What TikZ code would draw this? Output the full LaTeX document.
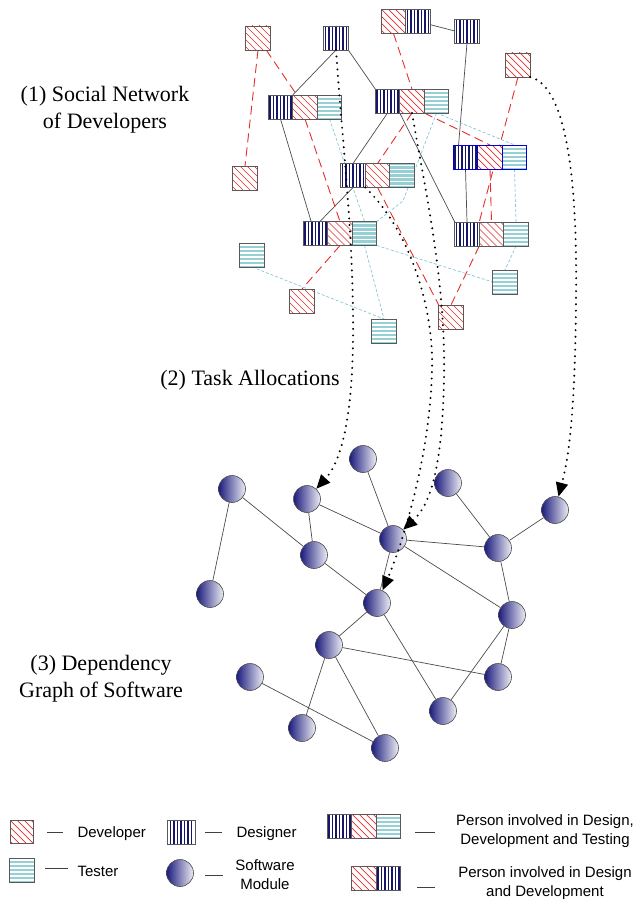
\documentclass[tikz,border=0pt]{standalone}
\usepackage{fontspec}
\setmainfont{Liberation Serif}
\setsansfont{Liberation Sans}
\usetikzlibrary{positioning, arrows.meta, backgrounds}

\definecolor{navy}{RGB}{22,22,105}
\definecolor{devred}{RGB}{228,45,45}
\definecolor{testblue}{RGB}{150,208,212}
\definecolor{linkblue}{RGB}{135,196,214}
\definecolor{modblue}{RGB}{28,28,125}

\begin{document}
\begin{tikzpicture}[x=1pt, y=-1pt,
  cell/.style={draw=black!65, line width=0.6pt, minimum width=24.5pt, minimum height=24pt, inner sep=0pt, outer sep=0pt},
  developer/.style={cell, fill=white, path picture={\foreach \k in {-4,...,4} \draw[devred, line width=0.7pt] ([xshift=\k*7pt]path picture bounding box.center) +(-20pt,20pt) -- +(20pt,-20pt);}},
  designer/.style={cell, fill=white, path picture={\foreach \k in {-3,...,3} \draw[navy, line width=1.8pt] ([xshift=\k*3.5pt]path picture bounding box.north) -- ([xshift=\k*3.5pt]path picture bounding box.south);}},
  tester/.style={cell, fill=testblue, path picture={\foreach \k in {-3,...,2} \draw[white, line width=1.3pt] ([yshift={\k*4pt+2pt}]path picture bounding box.west) -- ([yshift={\k*4pt+2pt}]path picture bounding box.east);}},
  blueedge/.style={draw=blue!85!black},
  module/.style={circle, draw=black!70, line width=0.6pt, minimum size=27pt, inner sep=0pt, left color=modblue, right color=modblue!8},
  tie/.style={draw=black!70, line width=0.7pt},
  devlink/.style={draw=devred, line width=0.9pt, dash pattern=on 9pt off 5pt},
  testlink/.style={draw=linkblue, line width=0.7pt, dash pattern=on 3pt off 2pt},
  alloc/.style={line width=2.2pt, dash pattern=on 0pt off 6.5pt, line cap=round, -{Triangle[length=14pt, width=12pt]}},
  heading/.style={align=center, font=\fontsize{22}{27}\selectfont},
  legtext/.style={align=center, font=\sffamily\fontsize{15}{19}\selectfont},
  legline/.style={draw=black!75, line width=0.8pt}]
\useasboundingbox (0,0) rectangle (643,899);

% headings
\node[heading] (hsocial) at (105,110) {(1) Social Network\\of Developers};
\node[heading] (htask) at (250,380) {(2) Task Allocations};
\node[heading] (hdep) at (101,679) {(3) Dependency\\Graph of Software};

% single roles
\node[developer] (d1) at (258,38) {};
\node[designer] (g1) at (336,38) {};
\node[designer] (g2) at (467,31) {};
\node[developer] (d2) at (518,65) {};
\node[developer] (d3) at (245,178) {};
\node[tester] (s1) at (252,255) {};
\node[developer] (d4) at (302,301) {};
\node[tester] (s2) at (384,331) {};
\node[developer] (d5) at (451,317) {};
\node[tester] (s3) at (505,282) {};

% design and development
\node[developer] (p1d) at (393.5,21.5) {};
\node[designer, right=0pt of p1d] (p1g) {};

% design, development and testing
\node[designer] (t1g) at (280.5,107) {};
\node[developer, right=0pt of t1g] (t1d) {};
\node[tester, right=0pt of t1d] (t1t) {};
\node[designer] (t2g) at (387.5,101) {};
\node[developer, right=0pt of t2g] (t2d) {};
\node[tester, right=0pt of t2d] (t2t) {};
\node[designer, blueedge] (t3g) at (465.5,157) {};
\node[developer, blueedge, right=0pt of t3g] (t3d) {};
\node[tester, blueedge, right=0pt of t3d] (t3t) {};
\node[designer] (t4g) at (467,234) {};
\node[developer, right=0pt of t4g] (t4d) {};
\node[tester, right=0pt of t4d] (t4t) {};
\node[designer] (t5g) at (353,175.5) {};
\node[developer, right=0pt of t5g] (t5d) {};
\node[tester, right=0pt of t5d] (t5t) {};
\node[designer] (t6g) at (315.5,233.5) {};
\node[developer, right=0pt of t6g] (t6d) {};
\node[tester, right=0pt of t6d] (t6t) {};
\coordinate (tbend) at (403,201);

% software modules
\node[module] (m1) at (232,489) {};
\node[module] (m2) at (307,499) {};
\node[module] (m3) at (363,459) {};
\node[module] (m4) at (314,555) {};
\node[module] (m5) at (210,594) {};
\node[module] (m6) at (448,483) {};
\node[module] (m7) at (555,510) {};
\node[module] (m8) at (393,539) {};
\node[module] (m9) at (498,548) {};
\node[module] (m10) at (377,603) {};
\node[module] (m11) at (512,615) {};
\node[module] (m12) at (329,645) {};
\node[module] (m13) at (250,677) {};
\node[module] (m14) at (498,677) {};
\node[module] (m15) at (443,711) {};
\node[module] (m16) at (302,728) {};
\node[module] (m17) at (385,748) {};

\begin{scope}[on background layer]
% social ties
\draw[tie] (g1.south) -- (t1g.north east);
\draw[tie] (g1.south east) -- (t2g.north west);
\draw[tie] (p1g) -- (g2.west);
\draw[tie] (g2.south) -- (t3g.120);
\draw[tie] (t1g.south) -- (t6g.110);
\draw[tie] (t5g.south) -- (t6g.70);
\draw[tie] (t2g.south) -- (t5g.north);
\draw[tie] (t2g.south east) -- (t4g.north west);
\draw[tie] (t3g.south) -- (t4g.north);
% developer links
\draw[devlink] (d1.south) -- (d3.north);
\draw[devlink] (d1) -- (t1d);
\draw[devlink] (t1d.south) -- (t6d.north);
\draw[devlink] (p1d.south) -- (t2d.north);
\draw[devlink] (t2d.south) -- (t5d.north);
\draw[devlink] (t2d.south east) -- (t3d.north);
\draw[devlink] (d2.south) -- (t4d.north west);
\draw[devlink] (t3d.south) -- (t4d.north);
\draw[devlink] (t4d.south west) -- (d5.north);
\draw[devlink] (t5d.south) -- (d5.north west);
\draw[devlink] (t6d.south) -- (d4.north);
% tester links
\draw[testlink] (t1t.south) -- (t6t.north);
\draw[testlink] (t2t.south) -- (tbend) -- (t6t.north east);
\draw[testlink] (t2t.south) -- (t3t.north);
\draw[testlink] (t3t.south) -- (t4t.north);
\draw[testlink] (t4t.south) -- (s3.north);
\draw[testlink] (t6t.south east) -- (s3.west);
\draw[testlink] (t6t.south) -- (s2.north);
\draw[testlink] (s1.south) -- (s2.north);
% module dependencies
\draw[tie] (m1) -- (m5);
\draw[tie] (m1) -- (m4);
\draw[tie] (m2) -- (m4);
\draw[tie] (m2) -- (m8);
\draw[tie] (m3) -- (m8);
\draw[tie] (m4) -- (m10);
\draw[tie] (m8) -- (m10);
\draw[tie] (m8) -- (m9);
\draw[tie] (m8) -- (m11);
\draw[tie] (m6) -- (m9);
\draw[tie] (m9) -- (m7);
\draw[tie] (m9) -- (m11);
\draw[tie] (m10) -- (m12);
\draw[tie] (m10) -- (m15);
\draw[tie] (m12) -- (m14);
\draw[tie] (m12) -- (m16);
\draw[tie] (m12) -- (m17);
\draw[tie] (m13) -- (m17);
\draw[tie] (m11) -- (m14);
\draw[tie] (m11) -- (m15);
\end{scope}

% task allocations
\draw[alloc] (g1.south) .. controls (343,150) and (354,240) .. (353,340) .. controls (352,430) and (338,465) .. (m2);
\draw[alloc] (t2d.south) .. controls (425,190) and (446,280) .. (444,380) .. controls (442,470) and (430,505) .. (m8);
\draw[alloc] (t5d.south west) .. controls (405,225) and (434,300) .. (432,370) .. controls (430,460) and (400,550) .. (m10);
\draw[alloc] (d2.south east) .. controls (560,85) and (578,150) .. (576,300) .. controls (575,420) and (568,460) .. (m7);

% legend
\node[developer, minimum width=23.5pt, minimum height=23pt] (ldev) at (22,832) {};
\draw[legline] (47,832) -- (63,832);
\node[legtext, anchor=west] (ldevtxt) at (74,834) {Developer};
\node[designer, minimum width=28pt] (ldes) at (181,832) {};
\draw[legline] (205,832) -- (222,832);
\node[legtext, anchor=west] (ldestxt) at (233,834) {Designer};
\node[tester] (ltst) at (22,870) {};
\draw[legline] (45,868) -- (68,868);
\node[legtext, anchor=west] (ltsttxt) at (74,871) {Tester};
\node[module] (lmod) at (180,873) {};
\draw[legline] (205,875) -- (223,875);
\node[legtext] (lmodtxt) at (265,875) {Software\\Module};
\node[designer] (lallg) at (339.5,826) {};
\node[developer, right=0pt of lallg] (lalld) {};
\node[tester, right=0pt of lalld] (lallt) {};
\draw[legline] (415,832) -- (435,832);
\node[legtext] (lalltxt) at (545,831) {Person involved in Design,\\Development and Testing};
\node[developer] (lpaird) at (364,878) {};
\node[designer, right=0pt of lpaird] (lpairg) {};
\draw[legline] (417,887) -- (435,887);
\node[legtext] (lpairtxt) at (545,883) {Person involved in Design\\and Development};
\end{tikzpicture}
\end{document}
